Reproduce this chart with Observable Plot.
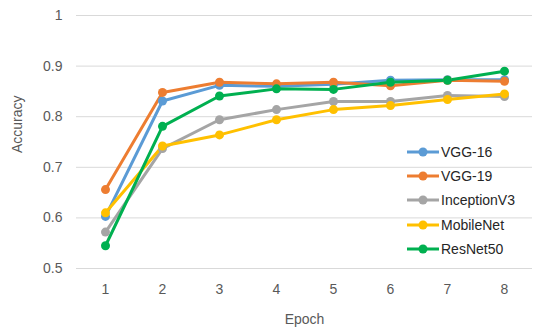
<!DOCTYPE html>
<html>
<head>
<meta charset="utf-8">
<script src="https://cdn.jsdelivr.net/npm/d3@7"></script>
<script src="https://cdn.jsdelivr.net/npm/@observablehq/plot@0.6"></script>
<style>
  html, body { margin: 0; padding: 0; background: #fff; }
  #wrap { position: relative; width: 550px; height: 336px; font-family: "Liberation Sans", Arial, sans-serif; }
  #legend { position: absolute; left: 407px; top: 140px; }
  .item { display: flex; align-items: center; height: 24.2px; font-size: 14px; color: #262626; }
  .item svg { margin-right: 2px; }
</style>
</head>
<body>
<div id="wrap"></div>
<script>
const epochs = [1, 2, 3, 4, 5, 6, 7, 8];
const seriesNames = ["VGG-16", "VGG-19", "InceptionV3", "MobileNet", "ResNet50"];
const seriesColors = ["#5B9BD5", "#ED7D31", "#A5A5A5", "#FFC000", "#00B050"];
const vgg16 = [0.603, 0.831, 0.862, 0.860, 0.864, 0.872, 0.873, 0.873];
const vgg19 = [0.656, 0.848, 0.868, 0.865, 0.868, 0.861, 0.872, 0.870];
const inceptionV3 = [0.572, 0.737, 0.794, 0.814, 0.830, 0.830, 0.842, 0.840];
const mobileNet = [0.610, 0.742, 0.764, 0.794, 0.814, 0.822, 0.834, 0.845];
const resNet50 = [0.545, 0.781, 0.841, 0.855, 0.854, 0.868, 0.872, 0.890];
const yTicks = [0.5, 0.6, 0.7, 0.8, 0.9, 1];

const allSeries = [vgg16, vgg19, inceptionV3, mobileNet, resNet50];
const data = [];
allSeries.forEach((vals, i) => {
  vals.forEach((v, j) => data.push({series: seriesNames[i], epoch: epochs[j], acc: v}));
});

const chart = Plot.plot({
  width: 550,
  height: 336,
  marginTop: 15,
  marginBottom: 68,
  marginLeft: 76,
  marginRight: 18,
  style: {fontFamily: "'Liberation Sans', Arial, sans-serif", fontSize: "14px", color: "#595959", background: "#fff"},
  x: {type: "point", domain: epochs, padding: 0.5, axis: null},
  y: {domain: [0.5, 1], axis: null},
  color: {domain: seriesNames, range: seriesColors},
  marks: [
    Plot.ruleY(yTicks, {stroke: "#d9d9d9", strokeWidth: 1}),
    Plot.axisY(yTicks, {tickSize: 0, tickPadding: 14, tickFormat: d => String(d), label: null, fill: "#595959", fontSize: 14}),
    Plot.axisX(epochs, {tickSize: 0, tickPadding: 16, label: null, fill: "#595959", fontSize: 14}),
    Plot.text(["Epoch"], {frameAnchor: "bottom", dy: 51, fill: "#595959", fontSize: 14, lineAnchor: "middle"}),
    Plot.text(["Accuracy"], {frameAnchor: "left", dx: -59, dy: 11, rotate: -90, fill: "#595959", fontSize: 14, lineAnchor: "middle"}),
    Plot.line(data, {x: "epoch", y: "acc", z: "series", stroke: "series", strokeWidth: 3}),
    Plot.dot(data, {x: "epoch", y: "acc", fill: "series", r: 4.5})
  ]
});

const wrap = document.getElementById("wrap");
wrap.appendChild(chart);

const legend = document.createElement("div");
legend.id = "legend";
seriesNames.forEach((name, i) => {
  const item = document.createElement("div");
  item.className = "item";
  const c = seriesColors[i];
  item.innerHTML = `<svg width="32" height="12"><line x1="0" y1="6" x2="32" y2="6" stroke="${c}" stroke-width="3"/><circle cx="16" cy="6" r="4.5" fill="${c}"/></svg><span>${name}</span>`;
  legend.appendChild(item);
});
wrap.appendChild(legend);
</script>
</body>
</html>
